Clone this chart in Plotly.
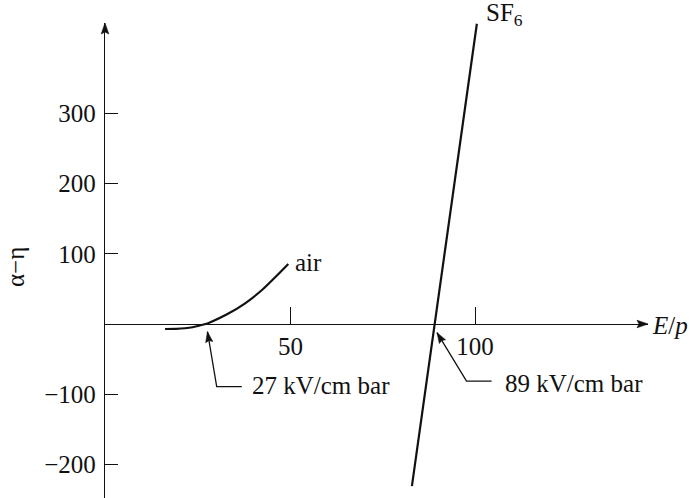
import math
import plotly.graph_objects as go

# Net ionisation coefficient (alpha - eta) against reduced field E/p
air_ep = [16.0, 19.0, 21.4, 23.5, 24.9, 27.0, 28.0, 32.8, 37.7, 42.5, 46.6, 49.4]
air_val = [-7.1, -6.9, -6.1, -4.6, -2.9, 0.0, 1.9, 13.8, 29.5, 49.5, 70.5, 85.5]

sf6_ep = [82.9, 100.5]
sf6_val = [-231.0, 428.0]

# Critical fields where alpha = eta
air_crit = 27
sf6_crit = 89

x_ticks = [50, 100]
y_ticks = [-200, -100, 100, 200, 300]

FONT = "Liberation Serif, Times New Roman, serif"
INK = "#111111"
FS = 25

W, H = 690, 498
M = dict(l=105, r=42, t=23, b=0)
x_range = [-0.27, 146.88]
y_range = [-248.04, 429.08]

# data units -> pixels, used only to orient arrowheads
px_per_x = (W - M["l"] - M["r"]) / (x_range[1] - x_range[0])
px_per_y = (H - M["t"] - M["b"]) / (y_range[1] - y_range[0])

fig = go.Figure()

fig.add_trace(go.Scatter(
    x=air_ep, y=air_val, mode="lines",
    line=dict(color=INK, width=2.2, shape="spline", smoothing=0.6),
    hoverinfo="skip", showlegend=False,
))
fig.add_trace(go.Scatter(
    x=sf6_ep, y=sf6_val, mode="lines",
    line=dict(color=INK, width=2.2),
    hoverinfo="skip", showlegend=False,
))

x_axis_pos = (0 - y_range[0]) / (y_range[1] - y_range[0])

fig.update_layout(
    width=W, height=H,
    margin=M,
    paper_bgcolor="white", plot_bgcolor="white",
    font=dict(family=FONT, size=FS, color=INK),
    xaxis=dict(
        range=x_range, anchor="free", position=x_axis_pos,
        showline=True, linecolor=INK, linewidth=1.4,
        ticks="inside", ticklen=17, tickwidth=1.2, tickcolor=INK,
        tickvals=x_ticks, ticklabelstandoff=0,
        showgrid=False, zeroline=False,
        tickfont=dict(family=FONT, size=FS, color=INK),
    ),
    yaxis=dict(
        range=y_range,
        showline=True, linecolor=INK, linewidth=1.4,
        ticks="inside", ticklen=13, tickwidth=1.2, tickcolor=INK,
        tickvals=y_ticks, ticklabelstandoff=3,
        showgrid=False, zeroline=False,
        tickfont=dict(family=FONT, size=FS, color=INK),
    ),
)


def arrowhead(x, y, ux, uy, xref="x", yref="y", length=11, half=3.8, notch=2.0):
    """Filled arrowhead with its tip at (x, y), pointing along (ux, uy) in pixels (y up)."""
    n = math.hypot(ux, uy)
    ux, uy = ux / n, uy / n
    vx, vy = -uy, ux
    pts = [
        (0.0, 0.0),
        (-length * ux + half * vx, -length * uy + half * vy),
        (-(length - notch) * ux, -(length - notch) * uy),
        (-length * ux - half * vx, -length * uy - half * vy),
    ]
    path = "M" + " L".join(f"{px:.2f},{py:.2f}" for px, py in pts) + " Z"
    fig.add_shape(type="path", path=path, xref=xref, yref=yref,
                  xsizemode="pixel", ysizemode="pixel", xanchor=x, yanchor=y,
                  fillcolor=INK, line=dict(color=INK, width=0.6), layer="above")


def leader(points):
    xs, ys = zip(*points)
    fig.add_trace(go.Scatter(
        x=list(xs), y=list(ys), mode="lines",
        line=dict(color=INK, width=1.3),
        hoverinfo="skip", showlegend=False, cliponaxis=False,
    ))
    ux = (xs[-1] - xs[-2]) * px_per_x
    uy = (ys[-1] - ys[-2]) * px_per_y
    arrowhead(xs[-1], ys[-1], ux, uy, length=10.5, half=3.6, notch=1.5)


# Axis arrowheads (paper-anchored so they are not clipped at the plot edge)
arrowhead(1.0, x_axis_pos, 1, 0, xref="paper", yref="paper")
arrowhead(0.0, 1.0, 0, 1, xref="paper", yref="paper")

# Leaders pointing at the critical fields
leader([(36.8, -89.4), (30.0, -89.4), (air_crit + 0.5, -11.0)])
leader([(104.5, -81.5), (97.7, -81.5), (sf6_crit + 0.7, -12.4)])

label = dict(showarrow=False, xanchor="left", yanchor="middle",
             font=dict(family=FONT, size=FS, color=INK))
fig.add_annotation(x=39.0, y=-87, xref="x", yref="y",
                   text=f"{air_crit} kV/cm bar", **label)
fig.add_annotation(x=107.6, y=-85.5, xref="x", yref="y",
                   text=f"{sf6_crit} kV/cm bar", **label)
fig.add_annotation(x=50.8, y=87, xref="x", yref="y", text="air", **label)
fig.add_annotation(x=0.698, y=1.018, xref="paper", yref="paper",
                   text="SF<sub>6</sub>", **label)
fig.add_annotation(x=1.004, y=0.3642, xref="paper", yref="paper",
                   text="<i>E</i>/<i>p</i>", **label)

# Vertical axis title
fig.add_annotation(x=-0.1657, y=0.4863, xref="paper", yref="paper",
                   xanchor="center", yanchor="middle",
                   text="α−η", textangle=-90, showarrow=False,
                   font=dict(family=FONT, size=FS, color=INK))

fig.write_html("out.html")
